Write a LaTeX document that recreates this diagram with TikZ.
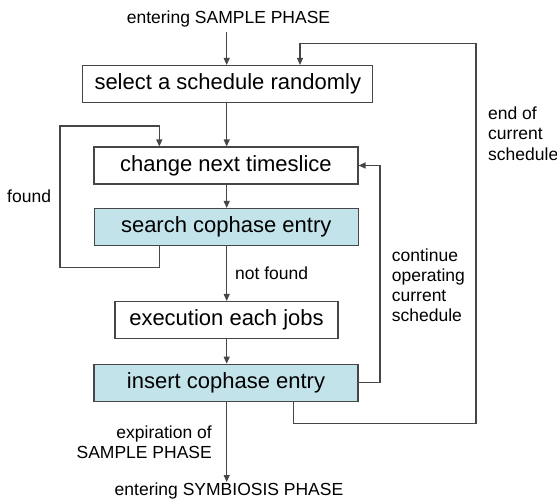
\documentclass[tikz,border=0pt]{standalone}
\usepackage{fontspec}
\setmainfont{Liberation Sans}
\usetikzlibrary{arrows.meta}
\definecolor{linegray}{RGB}{70,70,70}
\definecolor{cophase}{RGB}{194,227,233}
\tikzset{
  stepbox/.style={draw=linegray, line width=1.1pt, fill=white, inner sep=0pt,
    minimum height=37pt, font=\fontsize{22}{26}\selectfont},
  bluebox/.style={stepbox, fill=cophase},
  lbl/.style={inner sep=0pt, font=\fontsize{17.5}{20}\selectfont},
  flow/.style={draw=linegray, line width=1.1pt, -{Triangle[length=7pt,width=6pt]}},
  plain/.style={draw=linegray, line width=1.1pt}
}
\begin{document}
\begin{tikzpicture}[x=1pt, y=-1pt]
\useasboundingbox (0,0) rectangle (557,503);

% process steps
\node[stepbox, minimum width=290pt] (select) at (227.8,84) {select a schedule randomly};
\node[stepbox, minimum width=264pt] (change) at (226,165.5) {change next timeslice};
\node[bluebox, minimum width=264pt] (search) at (226.2,227) {search cophase entry};
\node[stepbox, minimum width=223pt] (exec) at (226.5,320) {execution each jobs};
\node[bluebox, minimum width=264pt] (insert) at (226,382.7) {insert cophase entry};

% entry and exit texts
\node[lbl, anchor=base] (enter) at (228.5,24) {entering SAMPLE PHASE};
\node[lbl, anchor=base] (leave) at (229,495.5) {entering SYMBIOSIS PHASE};
\coordinate (enterend) at (226.7,31.7);
\coordinate (leaveend) at (226.7,482);

% edge labels
\node[lbl, anchor=base west] (found) at (7,202.5) {found};
\node[lbl, anchor=base west] (notfound) at (235,279) {not found};
\node[lbl, anchor=north east, align=right] (expire) at (212,425.5) {expiration of\\SAMPLE PHASE};
\node[lbl, anchor=north west, align=left] (cont) at (391.7,248.5) {continue\\operating\\current\\schedule};
\node[lbl, anchor=north west, align=left,
      font=\fontsize{17.5}{20.5}\selectfont] (endsched) at (488,106.5) {end of\\current\\schedule};

% main flow
\draw[flow] (enterend) -- (select.north -| enterend);
\draw[flow] (select.south -| enterend) -- (change.north -| enterend);
\draw[flow] (change.south -| enterend) -- (search.north -| enterend);
\draw[flow] (search.south -| enterend) -- (exec.north -| enterend);
\draw[flow] (exec.south -| enterend) -- (insert.north -| enterend);
\draw[flow] (insert.south -| enterend) -- (leaveend);

% loop back when an entry is found
\coordinate (f1) at (159.3,267.7);
\coordinate (f2) at (60,126);
\draw[flow] (search.south -| f1) -- (f1) -| (f2) -| (change.north -| f1);

% continue the current schedule
\coordinate (c1) at (380,0);
\draw[flow] (insert.east) -- (insert.east -| c1) |- (change.east);

% end of the current schedule
\coordinate (e1) at (293.3,423.3);
\coordinate (e2) at (476,43.3);
\coordinate (e3) at (300,0);
\draw[flow] (insert.south -| e1) -- (e1) -| (e2) -| (select.north -| e3);
\end{tikzpicture}
\end{document}
